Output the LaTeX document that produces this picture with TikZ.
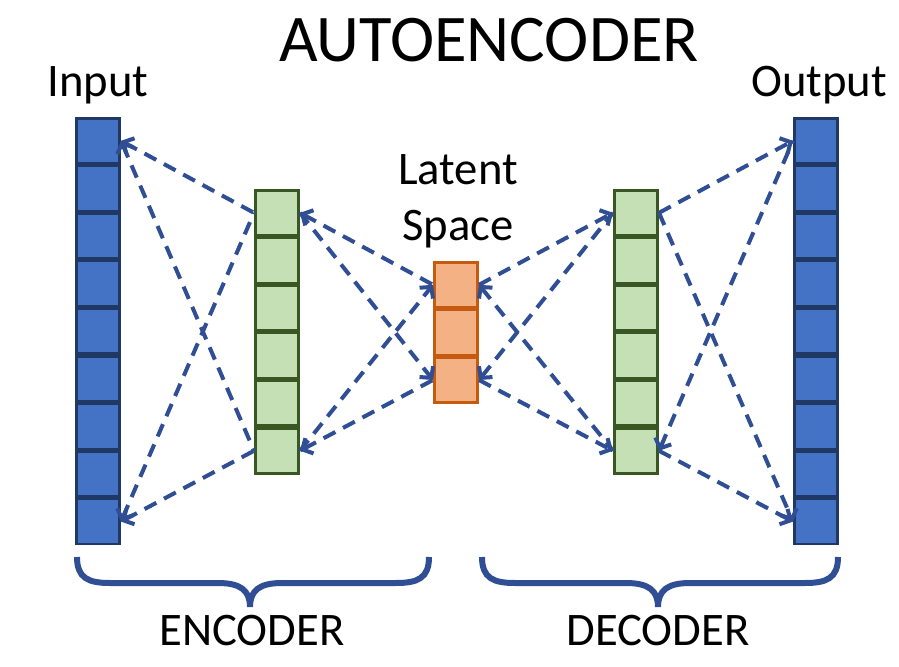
\documentclass[tikz,border=0pt]{standalone}
\usepackage{fontspec}
\setmainfont{Carlito}
\usepackage{tikz}
\usetikzlibrary{positioning,arrows.meta}
\definecolor{infill}{HTML}{4472C4}
\definecolor{inedge}{HTML}{1F3864}
\definecolor{hidfill}{HTML}{C5E0B4}
\definecolor{hidedge}{HTML}{385723}
\definecolor{latfill}{HTML}{F4B183}
\definecolor{latedge}{HTML}{C55A11}
\definecolor{linkc}{HTML}{2F4E93}
\tikzset{
  cell/.style={rectangle, line width=2pt, inner sep=0pt,
               minimum width=32.5pt, minimum height=33.7pt},
  incell/.style={cell, draw=inedge, fill=infill},
  hidcell/.style={cell, draw=hidedge, fill=hidfill},
  latcell/.style={cell, draw=latedge, fill=latfill},
  link/.style={draw=linkc, line width=3pt, dash pattern=on 10pt off 6.5pt,
               >={Straight Barb[length=6pt, width=13pt]}},
  brace/.style={draw=linkc, line width=4.5pt},
  lbl/.style={font=\fontsize{35}{42}\selectfont, anchor=base, inner sep=0pt}
}

\begin{document}
\begin{tikzpicture}[x=0.75pt, y=-0.75pt]
\useasboundingbox (0,0) rectangle (899,667);

% the five layers, one cell below the other
\node[incell, anchor=north] (in1) at (98,117) {};
\foreach \i [count=\j from 2] in {1,...,8}
  \node[incell, below=0pt of in\i] (in\j) {};
\node[hidcell, anchor=north] (enc1) at (277,189) {};
\foreach \i [count=\j from 2] in {1,...,5}
  \node[hidcell, below=0pt of enc\i] (enc\j) {};
\node[latcell, anchor=north] (lat1) at (456,261) {};
\foreach \i [count=\j from 2] in {1,2}
  \node[latcell, below=0pt of lat\i] (lat\j) {};
\node[hidcell, anchor=north] (dec1) at (636,189) {};
\foreach \i [count=\j from 2] in {1,...,5}
  \node[hidcell, below=0pt of dec\i] (dec\j) {};
\node[incell, anchor=north] (out1) at (816,117) {};
\foreach \i [count=\j from 2] in {1,...,8}
  \node[incell, below=0pt of out\i] (out\j) {};

% labels
\node[lbl, font=\fontsize{50}{60}\selectfont] (title) at (489,62) {AUTOENCODER};
\node[lbl] (inlbl) at (98,97) {Input};
\node[lbl] (outlbl) at (819,97) {Output};
\node[lbl, align=center] (latlbl) at (458,240) {Latent\\Space};
\node[lbl] (enclbl) at (252,645) {ENCODER};
\node[lbl] (declbl) at (658,645) {DECODER};

% connections
\foreach \a in {1,9}
  \foreach \b in {1,6}
    \draw[link, <-] (in\a.east) -- (enc\b.west);
\draw[link, <-] (enc1.east) -- (lat1.west);
\draw[link, <-] (enc6.east) -- (lat3.west);
\draw[link, ->] (enc1.east) -- (lat3.west);
\draw[link, ->] (enc6.east) -- (lat1.west);
\draw[link, ->] (lat1.east) -- (dec1.west);
\draw[link, ->] (lat3.east) -- (dec6.west);
\draw[link, <-] (lat1.east) -- (dec6.west);
\draw[link, <-] (lat3.east) -- (dec1.west);
\draw[link, ->] (dec1.east) -- (out1.west);
\draw[link, ->] (dec1.east) -- (out9.west);
\draw[link, ->] (dec6.east) -- (out9.west);
\draw[link, <-] (dec6.east) -- (out1.west);

% braces
\draw[brace] (77,557) .. controls (77,578) and (88,583) .. (110,583) -- (218,583)
  .. controls (240,583) and (250,590) .. (250,607)
  .. controls (250,590) and (260,583) .. (282,583) -- (396,583)
  .. controls (418,583) and (429,578) .. (429,557);
\draw[brace] (482,557) .. controls (482,578) and (493,583) .. (515,583) -- (626,583)
  .. controls (648,583) and (658,590) .. (658,607)
  .. controls (658,590) and (668,583) .. (690,583) -- (805,583)
  .. controls (827,583) and (838,578) .. (838,557);
\end{tikzpicture}
\end{document}
